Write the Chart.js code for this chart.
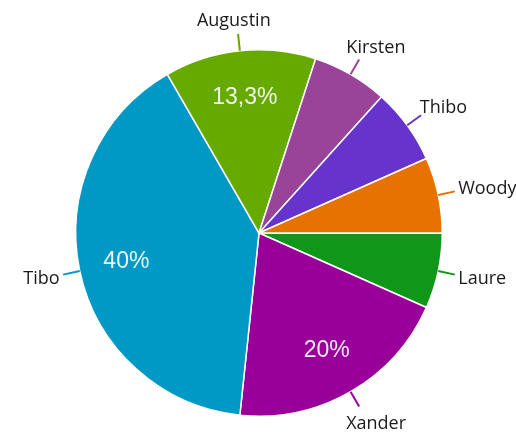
<!DOCTYPE html>
<html>
<head>
<meta charset="utf-8">
<script src="https://cdn.jsdelivr.net/npm/chart.js@4/dist/chart.umd.min.js"></script>
<style>
  html, body { margin: 0; padding: 0; background: #ffffff; }
  #wrap { width: 516px; height: 435px; position: relative; }
</style>
</head>
<body>
<div id="wrap"><canvas id="c" width="516" height="435"></canvas></div>
<script>
// Data
const categories = ["Laure", "Xander", "Tibo", "Augustin", "Kirsten", "Thibo", "Woody"];
const values = [1, 3, 6, 2, 1, 1, 1];
const colors = ["#109618", "#990099", "#0099c6", "#66aa00", "#994499", "#6633cc", "#e67300"];

const total = values.reduce((a, b) => a + b, 0);
function pctText(v) {
  const p = v / total * 100;
  return p.toLocaleString('nl-NL', { maximumFractionDigits: 1 }) + '%';
}

const labelPlugin = {
  id: 'outerLabels',
  afterDatasetsDraw(chart) {
    const ctx = chart.ctx;
    const meta = chart.getDatasetMeta(0);
    meta.data.forEach((arc, i) => {
      const p = arc.getProps(['x', 'y', 'startAngle', 'endAngle', 'outerRadius'], true);
      const mid = (p.startAngle + p.endAngle) / 2;
      const dx = Math.cos(mid), dy = Math.sin(mid);
      const R = p.outerRadius;
      // leader line
      const x0 = p.x + dx * R, y0 = p.y + dy * R;
      const x1 = p.x + dx * (R + 17), y1 = p.y + dy * (R + 17);
      ctx.save();
      ctx.strokeStyle = colors[i];
      ctx.lineWidth = 2;
      ctx.beginPath();
      ctx.moveTo(x0, y0);
      ctx.lineTo(x1, y1);
      ctx.stroke();
      // outer label
      ctx.font = '18px "Open Sans"';
      ctx.fillStyle = '#1a1a1a';
      ctx.textAlign = 'center';
      ctx.textBaseline = 'middle';
      const w = ctx.measureText(categories[i]).width;
      const h = dy > 0 ? 32 : 18;
      const gap = 4;
      const tx = x1 + dx * gap + dx * w / 2;
      const ty = y1 + dy * gap + dy * h / 2;
      ctx.fillText(categories[i], tx, ty);
      // inner percentage for larger slices
      if (values[i] / total >= 0.1) {
        ctx.font = '23px "Liberation Sans"';
        ctx.fillStyle = 'rgba(255,255,255,0.92)';
        const r = R * 0.74;
        ctx.fillText(pctText(values[i]), p.x + dx * r, p.y + dy * r);
      }
      ctx.restore();
    });
  }
};

new Chart(document.getElementById('c'), {
  type: 'pie',
  data: {
    labels: categories,
    datasets: [{
      data: values,
      backgroundColor: colors,
      borderColor: '#ffffff',
      borderWidth: 1.5
    }]
  },
  options: {
    responsive: false,
    animation: false,
    rotation: 90,
    layout: { padding: { left: 75, right: 73, top: 49, bottom: 18 } },
    plugins: {
      legend: { display: false },
      tooltip: { enabled: false },
      title: { display: false }
    }
  },
  plugins: [labelPlugin]
});
</script>
</body>
</html>
